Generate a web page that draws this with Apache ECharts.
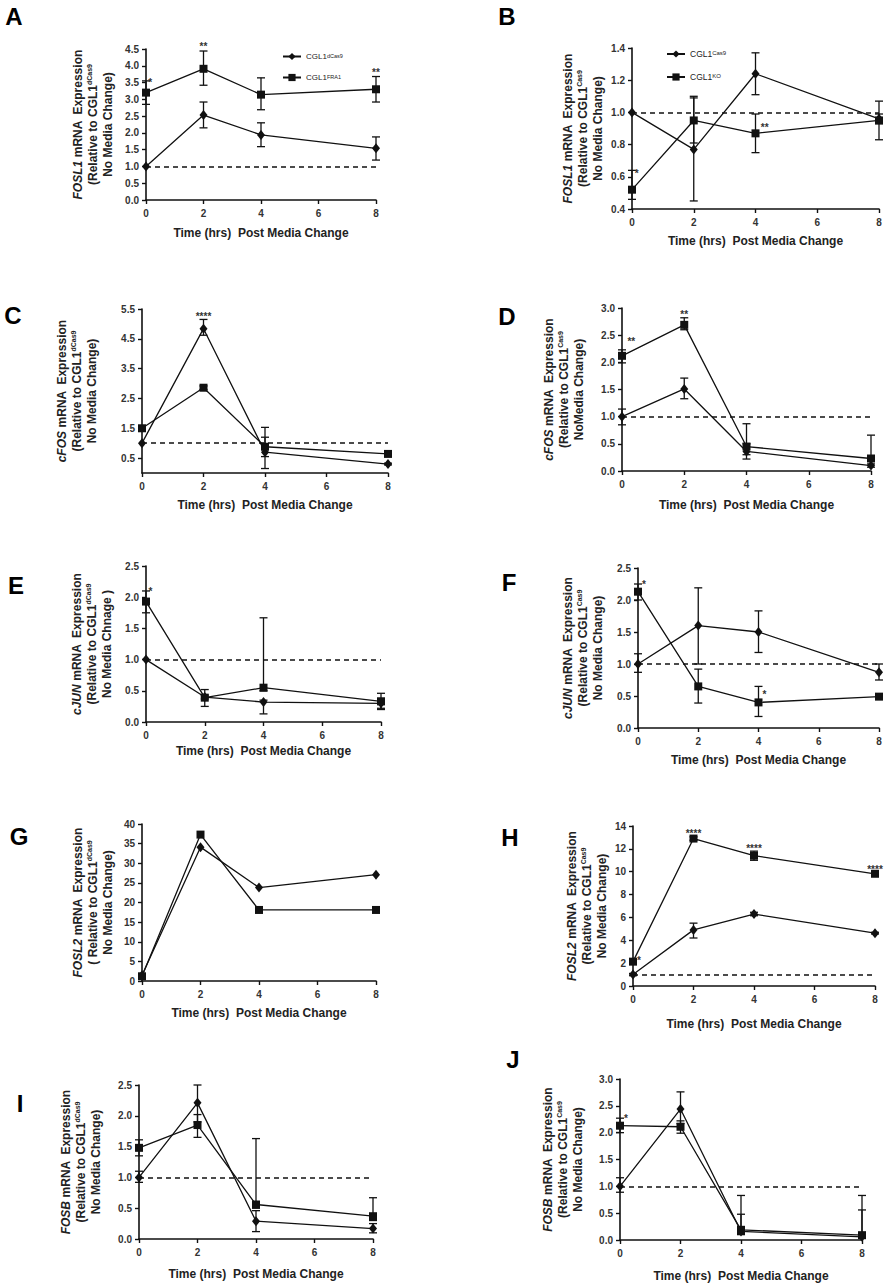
<!DOCTYPE html>
<html><head><meta charset="utf-8">
<script src="https://cdn.jsdelivr.net/npm/echarts@6/dist/echarts.min.js"></script>
<style>html,body{margin:0;padding:0;background:#fff}#c{width:886px;height:1283px}</style>
</head><body><div id="c"></div>
<script>
// ---------- data ----------
const hours = [0, 2, 4, 8];

// A: FOSL1, dCas9 vs FRA1
const A_dCas9    = [1.00, 2.53, 1.94, 1.54];
const A_dCas9_lo = [1.00, 2.15, 1.59, 1.19];
const A_dCas9_hi = [1.00, 2.92, 2.30, 1.88];
const A_FRA1     = [3.20, 3.91, 3.14, 3.30];
const A_FRA1_lo  = [2.85, 3.42, 2.69, 2.92];
const A_FRA1_hi  = [3.55, 4.44, 3.64, 3.68];
const A_stars = [[0.15, 3.55, '*'], [2, 4.62, '**'], [8, 3.85, '**']];

// B: FOSL1, Cas9 vs KO
const B_Cas9    = [1.00, 0.77, 1.24, 0.96];
const B_Cas9_lo = [1.00, 0.45, 1.11, 0.93];
const B_Cas9_hi = [1.00, 1.09, 1.37, 0.99];
const B_KO      = [0.52, 0.95, 0.87, 0.95];
const B_KO_lo   = [0.46, 0.81, 0.75, 0.83];
const B_KO_hi   = [0.64, 1.10, 0.99, 1.07];
const B_stars = [[0.15, 0.63, '*'], [4.3, 0.92, '**']];

// C: cFOS, dCas9 vs FRA1
const C_dCas9    = [1.00, 4.84, 0.70, 0.30];
const C_dCas9_lo = [1.00, 4.62, 0.15, 0.27];
const C_dCas9_hi = [1.00, 5.15, 1.20, 0.33];
const C_FRA1     = [1.50, 2.86, 0.88, 0.64];
const C_FRA1_lo  = [1.45, 2.80, 0.55, 0.60];
const C_FRA1_hi  = [1.55, 2.92, 1.53, 0.68];
const C_stars = [[2, 5.3, '****']];
const C_yTicks = [0.5, 1.5, 2.5, 3.5, 4.5, 5.5];

// D: cFOS, Cas9 vs KO
const D_Cas9    = [1.00, 1.51, 0.36, 0.10];
const D_Cas9_lo = [0.85, 1.33, 0.22, 0.07];
const D_Cas9_hi = [1.14, 1.71, 0.50, 0.13];
const D_KO      = [2.12, 2.69, 0.45, 0.23];
const D_KO_lo   = [1.99, 2.60, 0.30, 0.20];
const D_KO_hi   = [2.23, 2.82, 0.87, 0.66];
const D_stars = [[0.3, 2.42, '**'], [2, 2.92, '**']];

// E: cJUN, dCas9 vs FRA1
const E_dCas9    = [1.00, 0.40, 0.32, 0.30];
const E_dCas9_lo = [1.00, 0.37, 0.13, 0.22];
const E_dCas9_hi = [1.00, 0.43, 0.35, 0.38];
const E_FRA1     = [1.93, 0.39, 0.55, 0.33];
const E_FRA1_lo  = [1.75, 0.25, 0.50, 0.20];
const E_FRA1_hi  = [2.10, 0.52, 1.67, 0.46];
const E_stars = [[0.15, 2.12, '*']];

// F: cJUN, Cas9 vs KO
const F_Cas9    = [1.00, 1.60, 1.50, 0.87];
const F_Cas9_lo = [0.87, 1.00, 1.18, 0.75];
const F_Cas9_hi = [1.16, 2.19, 1.83, 1.00];
const F_KO      = [2.13, 0.65, 0.40, 0.49];
const F_KO_lo   = [2.00, 0.39, 0.18, 0.47];
const F_KO_hi   = [2.25, 0.92, 0.65, 0.51];
const F_stars = [[0.2, 2.27, '*'], [4.2, 0.56, '*']];

// G: FOSL2, dCas9 vs FRA1 (no error bars)
const G_dCas9 = [1.45, 34.1, 23.8, 27.1];
const G_FRA1  = [1.20, 37.3, 18.1, 18.1];
const G_stars = [];

// H: FOSL2, Cas9 vs KO
const H_Cas9    = [1.00, 4.91, 6.29, 4.62];
const H_Cas9_lo = [0.90, 4.20, 6.15, 4.55];
const H_Cas9_hi = [1.10, 5.50, 6.45, 4.70];
const H_KO      = [2.13, 12.90, 11.40, 9.82];
const H_KO_lo   = [2.00, 12.75, 11.00, 9.70];
const H_KO_hi   = [2.30, 13.05, 11.80, 9.95];
const H_stars = [[0.2, 2.4, '*'], [2, 13.5, '****'], [4, 12.2, '****'], [8, 10.4, '****']];

// I: FOSB, dCas9 vs FRA1
const I_dCas9    = [1.00, 2.21, 0.29, 0.17];
const I_dCas9_lo = [0.92, 1.90, 0.12, 0.10];
const I_dCas9_hi = [1.10, 2.50, 0.46, 0.25];
const I_FRA1     = [1.48, 1.85, 0.56, 0.37];
const I_FRA1_lo  = [1.35, 1.65, 0.50, 0.30];
const I_FRA1_hi  = [1.61, 2.02, 1.63, 0.67];
const I_stars = [];

// J: FOSB, Cas9 vs KO
const J_Cas9    = [1.00, 2.44, 0.16, 0.06];
const J_Cas9_lo = [0.89, 2.17, 0.10, 0.03];
const J_Cas9_hi = [1.16, 2.76, 0.48, 0.56];
const J_KO      = [2.13, 2.11, 0.19, 0.09];
const J_KO_lo   = [2.00, 1.99, 0.12, 0.05];
const J_KO_hi   = [2.27, 2.22, 0.83, 0.83];
const J_stars = [[0.2, 2.3, '*']];

const xTitle = 'Time (hrs)  Post Media Change';

// ---------- panel definitions ----------
const panels = [
  {key:'A', gene:'FOSL1', l2:'(Relative to CGL1', ref:'dCas9', l3:'No Media Change)', names:['dCas9','FRA1'], y:[0,4.5,0.5], dec:1,
   s:[[A_dCas9,A_dCas9_lo,A_dCas9_hi],[A_FRA1,A_FRA1_lo,A_FRA1_hi]], stars:A_stars, dashed:true},
  {key:'B', gene:'FOSL1', l2:'(Relative to CGL1', ref:'Cas9', l3:'No Media Change)', names:['Cas9','KO'], y:[0.4,1.4,0.2], dec:1,
   s:[[B_Cas9,B_Cas9_lo,B_Cas9_hi],[B_KO,B_KO_lo,B_KO_hi]], stars:B_stars, dashed:true},
  {key:'C', gene:'cFOS', l2:'(Relative to CGL1', ref:'dCas9', l3:'No Media Change)', names:['dCas9','FRA1'], y:[0,5.5,0.5], dec:1, custom:C_yTicks,
   s:[[C_dCas9,C_dCas9_lo,C_dCas9_hi],[C_FRA1,C_FRA1_lo,C_FRA1_hi]], stars:C_stars, dashed:true},
  {key:'D', gene:'cFOS', l2:'(Relative to CGL1', ref:'Cas9', l3:'NoMedia Change)', names:['Cas9','KO'], y:[0,3,0.5], dec:1,
   s:[[D_Cas9,D_Cas9_lo,D_Cas9_hi],[D_KO,D_KO_lo,D_KO_hi]], stars:D_stars, dashed:true},
  {key:'E', gene:'cJUN', l2:'(Relative to CGL1', ref:'dCas9', l3:'No Media Chnage )', names:['dCas9','FRA1'], y:[0,2.5,0.5], dec:1,
   s:[[E_dCas9,E_dCas9_lo,E_dCas9_hi],[E_FRA1,E_FRA1_lo,E_FRA1_hi]], stars:E_stars, dashed:true},
  {key:'F', gene:'cJUN', l2:'(Relative to CGL1', ref:'Cas9', l3:'No Media Change)', names:['Cas9','KO'], y:[0,2.5,0.5], dec:1,
   s:[[F_Cas9,F_Cas9_lo,F_Cas9_hi],[F_KO,F_KO_lo,F_KO_hi]], stars:F_stars, dashed:true},
  {key:'G', gene:'FOSL2', l2:'( Relative to CGL1', ref:'dCas9', l3:'No Media Change)', names:['dCas9','FRA1'], y:[0,40,5], dec:0,
   s:[[G_dCas9,null,null],[G_FRA1,null,null]], stars:G_stars, dashed:false},
  {key:'H', gene:'FOSL2', l2:'(Relative to CGL1', ref:'Cas9', l3:'No Media Change)', names:['Cas9','KO'], y:[0,14,2], dec:0,
   s:[[H_Cas9,H_Cas9_lo,H_Cas9_hi],[H_KO,H_KO_lo,H_KO_hi]], stars:H_stars, dashed:true},
  {key:'I', gene:'FOSB', l2:'(Relative to CGL1', ref:'dCas9', l3:'No Media Change)', names:['dCas9','FRA1'], y:[0,2.5,0.5], dec:1,
   s:[[I_dCas9,I_dCas9_lo,I_dCas9_hi],[I_FRA1,I_FRA1_lo,I_FRA1_hi]], stars:I_stars, dashed:true},
  {key:'J', gene:'FOSB', l2:'(Relative to CGL1', ref:'Cas9', l3:'No Media Change)', names:['Cas9','KO'], y:[0,3,0.5], dec:1,
   s:[[J_Cas9,J_Cas9_lo,J_Cas9_hi],[J_KO,J_KO_lo,J_KO_hi]], stars:J_stars, dashed:true}
];

// layout (pixels)
const layout = {
  A:{left:146, top:49,   w:230, h:151, tx:93,  letter:[14,16],   gap:27},
  B:{left:632, top:48,   w:247, h:161, tx:583, letter:[507,16],  gap:26},
  C:{left:142, top:309,  w:246, h:164, tx:77,  letter:[13,315],  gap:26},
  D:{left:622, top:308,  w:249, h:163, tx:564, letter:[507,316], gap:28},
  E:{left:146, top:566,  w:235, h:156, tx:92,  letter:[16,585],  gap:23},
  F:{left:638, top:568,  w:241, h:160, tx:583, letter:[509,582], gap:26},
  G:{left:142, top:824,  w:234, h:157, tx:93,  letter:[19,836],  gap:26},
  H:{left:633, top:826,  w:242, h:160, tx:587, letter:[510,837], gap:32},
  I:{left:139, top:1085, w:234, h:154, tx:81,  letter:[20,1103], gap:29},
  J:{left:620, top:1079, w:242, h:161, tx:563, letter:[513,1059],gap:30}
};

const INK = '#111';
const FONT = '"Liberation Sans", Arial, sans-serif';

function errRender(params, api) {
  const x = api.value(0), lo = api.value(1), hi = api.value(2);
  if (!(hi > lo)) return null;
  const p1 = api.coord([x, hi]), p2 = api.coord([x, lo]);
  const w = 4;
  const style = {stroke: INK, lineWidth: 1.3};
  return {type:'group', children:[
    {type:'line', shape:{x1:p1[0], y1:p1[1], x2:p2[0], y2:p2[1]}, style},
    {type:'line', shape:{x1:p1[0]-w, y1:p1[1], x2:p1[0]+w, y2:p1[1]}, style},
    {type:'line', shape:{x1:p2[0]-w, y1:p2[1], x2:p2[0]+w, y2:p2[1]}, style}
  ]};
}

const legendText = (size) => ({
  color:'#222', fontSize:size, fontFamily:FONT,
  rich:{
    b:{fontSize:size, color:'#222', fontFamily:FONT},
    s:{fontSize:size - 2.5, color:'#222', verticalAlign:'top', fontFamily:FONT}
  }
});

const option = {
  animation: false,
  backgroundColor: '#fff',
  textStyle: {fontFamily: FONT},
  grid: [], xAxis: [], yAxis: [], series: [], graphic: [],
  legend: [
    {left:277, top:47.5, orient:'vertical', itemGap:13, itemWidth:18, itemHeight:9, selectedMode:false,
     data:['dCas9','FRA1'], formatter: n => '{b|CGL1}{s|' + n + '}', textStyle: legendText(8)},
    {left:661, top:44.5, orient:'vertical', itemGap:14, itemWidth:18, itemHeight:9, selectedMode:false,
     data:['Cas9','KO'], formatter: n => '{b|CGL1}{s|' + n + '}', textStyle: legendText(8.5)}
  ]
};

panels.forEach((p, i) => {
  const L = layout[p.key];
  option.grid.push({left:L.left, top:L.top, width:L.w, height:L.h, containLabel:false});
  option.xAxis.push({
    gridIndex:i, type:'value', min:0, max:8, interval:2,
    axisLine:{onZero:false, lineStyle:{color:INK, width:1.6}},
    axisTick:{length:4, lineStyle:{color:INK, width:1.4}},
    axisLabel:{color:'#333', fontSize:10, fontWeight:'bold', margin:8, fontFamily:FONT},
    splitLine:{show:false},
    name:xTitle, nameLocation:'middle', nameGap:L.gap,
    nameTextStyle:{fontSize:12, fontWeight:'bold', color:'#222', fontFamily:FONT}
  });
  const yAx = {
    gridIndex:i, type:'value', min:p.y[0], max:p.y[1], interval:p.y[2],
    axisLine:{show:true, onZero:false, lineStyle:{color:INK, width:1.6}},
    axisTick:{show:true, length:4, lineStyle:{color:INK, width:1.4}},
    axisLabel:{color:'#333', fontSize:10, fontWeight:'bold', margin:7, fontFamily:FONT,
      formatter: v => Number(v).toFixed(p.dec)},
    splitLine:{show:false}
  };
  if (p.custom) {
    yAx.axisLabel.customValues = p.custom;
    yAx.axisTick.customValues = p.custom;
  }
  option.yAxis.push(yAx);

  p.s.forEach((d, k) => {
    const ser = {
      type:'line', name:p.names[k], xAxisIndex:i, yAxisIndex:i,
      data: hours.map((h, j) => [h, d[0][j]]),
      symbol: k === 0 ? 'diamond' : 'rect',
      symbolSize: k === 0 ? [8, 10] : 8,
      showSymbol:true,
      lineStyle:{color:INK, width:1.3},
      itemStyle:{color:INK},
      z:4
    };
    if (k === 0 && p.dashed) {
      ser.markLine = {
        silent:true, symbol:'none', label:{show:false},
        lineStyle:{type:[5,4], color:INK, width:1.5},
        data:[[{coord:[0,1]}, {coord:[8,1]}]]
      };
    }
    option.series.push(ser);
    if (d[1]) {
      option.series.push({
        type:'custom', xAxisIndex:i, yAxisIndex:i, silent:true, z:3,
        renderItem: errRender,
        data: hours.map((h, j) => [h, d[1][j], d[2][j]])
      });
    }
  });

  if (p.stars.length) {
    option.series.push({
      type:'custom', xAxisIndex:i, yAxisIndex:i, silent:true, z:5,
      data: p.stars.map(s => [s[0], s[1]]),
      renderItem: (params, api) => {
        const c = api.coord([api.value(0), api.value(1)]);
        return {type:'text', x:c[0], y:c[1] + 2,
          style:{text:p.stars[params.dataIndex][2], fontSize:10, fontWeight:'bold', fill:'#333',
                 align:'center', verticalAlign:'middle', fontFamily:FONT}};
      }
    });
  }

  // panel letter
  option.graphic.push({type:'text', x:L.letter[0], y:L.letter[1],
    style:{text:p.key, fontSize:24, fontWeight:'bold', fill:'#000', align:'center', verticalAlign:'middle', fontFamily:FONT}});

  // y-axis title (three lines, rotated)
  const txt = '{i|' + p.gene + '}{n| mRNA  Expression}\n{n|' + p.l2 + '}{s|' + p.ref + '}\n{n|' + p.l3 + '}';
  option.graphic.push({type:'text', x:L.tx, y:L.top + L.h / 2, rotation:Math.PI / 2,
    style:{text:txt, align:'center', verticalAlign:'middle', fontFamily:FONT, fontSize:12, fontWeight:'bold', fill:'#222',
      rich:{
        i:{fontSize:12, fontWeight:'bold', fontStyle:'italic', fill:'#222', lineHeight:15, fontFamily:FONT},
        n:{fontSize:12, fontWeight:'bold', fill:'#222', lineHeight:15, fontFamily:FONT},
        s:{fontSize:7, fontWeight:'bold', fill:'#222', verticalAlign:'top', fontFamily:FONT}
      }}});
});

const chart = echarts.init(document.getElementById('c'), null, {renderer:'svg', width:886, height:1283});
chart.setOption(option);
</script>
</body></html>
